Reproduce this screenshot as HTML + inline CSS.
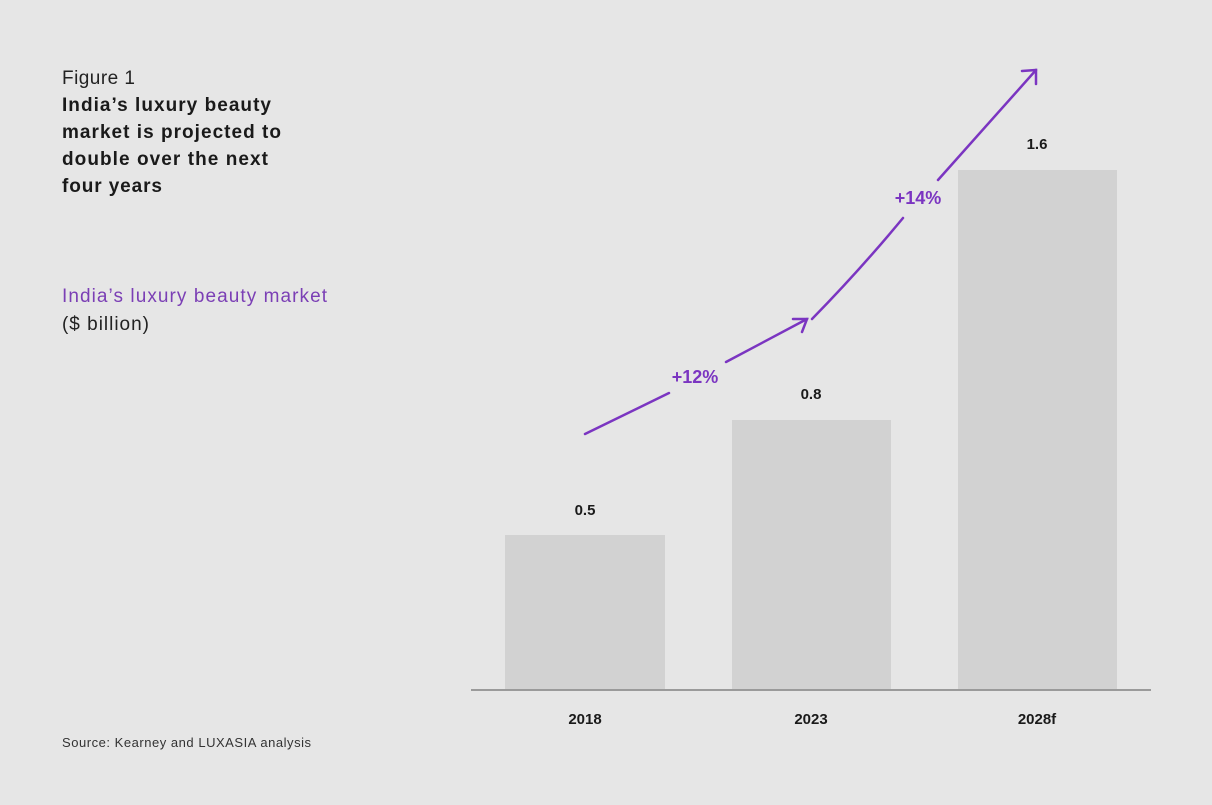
<!DOCTYPE html>
<html><head><style>
html,body{margin:0;padding:0;background:#e6e6e6;}
svg{display:block;font-family:"Liberation Sans",sans-serif;}
</style></head><body>
<svg width="1212" height="805" viewBox="0 0 1212 805">
<rect width="1212" height="805" fill="#e6e6e6"/>
<text x="62" y="84" font-size="19" fill="#222" textLength="73">Figure 1</text>
<g font-size="19" font-weight="bold" fill="#1a1a1a">
<text x="62" y="111" textLength="209">India’s luxury beauty</text>
<text x="62" y="138" textLength="219">market is projected to</text>
<text x="62" y="165" textLength="206">double over the next</text>
<text x="62" y="192" textLength="100">four years</text>
</g>
<text x="62" y="302" font-size="19" fill="#7b3fb5" textLength="265">India’s luxury beauty market</text>
<text x="62" y="330" font-size="19" fill="#222" textLength="87">($ billion)</text>
<rect x="505" y="535" width="160" height="155" fill="#d2d2d2"/>
<rect x="732" y="420" width="159" height="270" fill="#d2d2d2"/>
<rect x="958" y="170" width="159" height="520" fill="#d2d2d2"/>
<line x1="471" y1="690" x2="1151" y2="690" stroke="#9a9a9a" stroke-width="2"/>
<g font-size="15" font-weight="bold" fill="#1a1a1a" text-anchor="middle">
<text x="585" y="515">0.5</text>
<text x="811" y="399">0.8</text>
<text x="1037" y="149">1.6</text>
<text x="585" y="724">2018</text>
<text x="811" y="724">2023</text>
<text x="1037" y="724">2028f</text>
</g>
<g stroke="#7b35c1" stroke-width="2.5" fill="none" stroke-linecap="round">
<path d="M585,434 L669,393"/>
<path d="M726,362 L807,319"/>
<path d="M793,319 L807,319 L802,332"/>
<path d="M812,319 Q860,270 903,218"/>
<path d="M938,180 L1036,70"/>
<path d="M1022,71 L1036,70 L1036,84"/>
</g>
<g font-size="18" font-weight="bold" fill="#7b35c1" text-anchor="middle">
<text x="695" y="383">+12%</text>
<text x="918" y="204">+14%</text>
</g>
<text x="62" y="747" font-size="13" fill="#333" textLength="249">Source: Kearney and LUXASIA analysis</text>
</svg>
</body></html>
